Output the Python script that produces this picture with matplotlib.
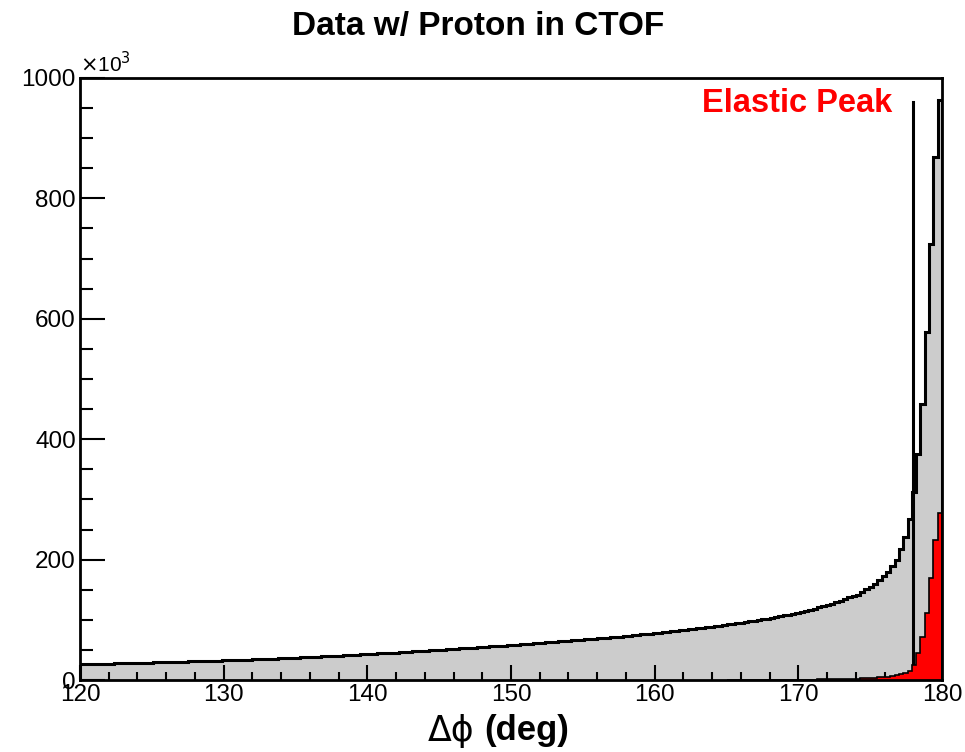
import numpy as np
import matplotlib
matplotlib.use("Agg")
import matplotlib.pyplot as plt
from matplotlib.ticker import MultipleLocator

plt.rcParams['font.family'] = ['Liberation Sans', 'DejaVu Sans']
plt.rcParams['mathtext.fontset'] = 'dejavusans'

# histogram range (deg) and counts in units of 10^3, one row = 3 deg (10 bins)
x_lo, x_hi, n_bins = 120.0, 180.0, 200
all_counts = [
    26.1, 26.3, 26.5, 26.6, 26.8, 27.0, 27.2, 27.4, 27.5, 27.7,
    27.9, 28.1, 28.3, 28.4, 28.6, 28.8, 29.0, 29.2, 29.4, 29.6,
    29.8, 30.0, 30.2, 30.4, 30.7, 30.9, 31.1, 31.3, 31.5, 31.7,
    31.9, 32.1, 32.3, 32.5, 32.8, 33.0, 33.3, 33.5, 33.8, 34.1,
    34.3, 34.6, 34.9, 35.1, 35.4, 35.7, 36.0, 36.3, 36.6, 36.9,
    37.2, 37.5, 37.8, 38.2, 38.5, 38.8, 39.2, 39.5, 39.9, 40.2,
    40.6, 41.0, 41.3, 41.7, 42.1, 42.5, 42.9, 43.3, 43.7, 44.1,
    44.5, 44.9, 45.3, 45.7, 46.1, 46.5, 47.0, 47.4, 47.9, 48.3,
    48.7, 49.2, 49.6, 50.1, 50.6, 51.0, 51.5, 52.0, 52.5, 52.9,
    53.4, 53.9, 54.3, 54.8, 55.3, 55.8, 56.3, 56.8, 57.3, 57.8,
    58.3, 58.8, 59.3, 59.8, 60.4, 60.9, 61.4, 61.9, 62.5, 63.0,
    63.5, 64.1, 64.7, 65.2, 65.8, 66.4, 67.0, 67.6, 68.2, 68.8,
    69.3, 69.9, 70.5, 71.1, 71.7, 72.3, 73.0, 73.6, 74.3, 75.0,
    75.7, 76.4, 77.1, 77.9, 78.6, 79.3, 80.1, 80.9, 81.7, 82.5,
    83.4, 84.2, 85.0, 85.9, 86.8, 87.7, 88.6, 89.5, 90.5, 91.5,
    92.5, 93.5, 94.5, 95.5, 96.6, 97.6, 98.7, 99.8, 101.0, 102.2,
    103.5, 104.8, 106.1, 107.4, 108.8, 110.3, 111.8, 113.3, 115.0, 116.7,
    118.6, 120.5, 122.5, 124.6, 126.8, 129.2, 131.7, 134.4, 137.2, 140.0,
    142, 146, 151, 155, 160, 166, 172, 180, 189, 200,
    218, 238, 267, 312, 375, 458, 578, 725, 869, 964,
]

# elastic peak, last 50 bins (165 - 180 deg)
elastic_lo = 165.0
elastic_counts = [
    0.2, 0.2, 0.2, 0.2, 0.2, 0.3, 0.3, 0.3, 0.3, 0.3,
    0.4, 0.4, 0.4, 0.5, 0.5, 0.5, 0.6, 0.6, 0.7, 0.7,
    0.8, 0.9, 1.0, 1.1, 1.2, 1.3, 1.5, 1.7, 1.9, 2.1,
    2.4, 2.7, 3.0, 3.4, 3.9, 4.4, 5.0, 5.8, 6.7, 7.8,
    9.5, 12, 15.5, 25, 45, 72, 112, 170, 233, 278,
]

cut_phi = 178.0
cut_top = 960

edges = np.linspace(x_lo, x_hi, n_bins + 1)
el_edges = edges[edges >= elastic_lo - 1e-9]

fig = plt.figure(figsize=(9.65, 7.52), dpi=100)
ax = fig.add_axes([0.0829, 0.0957, 0.8933, 0.8006])

ax.stairs(all_counts, edges, fill=True, color='#cccccc', zorder=1)
ax.stairs(all_counts, edges, color='black', lw=2.2, zorder=2)
ax.plot([cut_phi, cut_phi], [0, cut_top], color='black', lw=2.2, zorder=3)
ax.stairs(elastic_counts, el_edges, fill=True, color='red', zorder=4)
ax.stairs(elastic_counts, el_edges, color='black', lw=1.2, zorder=5)

ax.set_xlim(x_lo, x_hi)
ax.set_ylim(0, 1000)
ax.xaxis.set_major_locator(MultipleLocator(10))
ax.xaxis.set_minor_locator(MultipleLocator(2))
ax.yaxis.set_major_locator(MultipleLocator(200))
ax.yaxis.set_minor_locator(MultipleLocator(50))
ax.tick_params(axis='x', which='major', direction='in', length=11, width=1.5, labelsize=17.5, pad=3)
ax.tick_params(axis='x', which='minor', direction='in', length=6, width=1.5)
ax.tick_params(axis='y', which='major', direction='in', length=18, width=1.5, labelsize=17.5, pad=3)
ax.tick_params(axis='y', which='minor', direction='in', length=9, width=1.5)
for s in ax.spines.values():
    s.set_linewidth(2)
    s.set_zorder(10)

ax.text(0.0, 1.003, r'$\times$10$^{3}$', transform=ax.transAxes, fontsize=15, ha='left', va='bottom')
ax.text(0.942, 0.957, 'Elastic Peak', transform=ax.transAxes, color='red', fontsize=23.5,
        fontweight='bold', ha='right', va='center')
fig.text(0.495, 0.965, 'Data w/ Proton in CTOF', fontsize=24, fontweight='bold', ha='center', va='center')
# x axis title: greek part regular, unit part bold
fig.text(474 / 965, 0.028, 'Δϕ', fontsize=25, ha='right', va='center',
         family=['DejaVu Sans', 'Liberation Sans'])
fig.text(484 / 965, 0.028, '(deg)', fontsize=25, fontweight='bold', ha='left', va='center')

fig.savefig('out.png', dpi=100)
